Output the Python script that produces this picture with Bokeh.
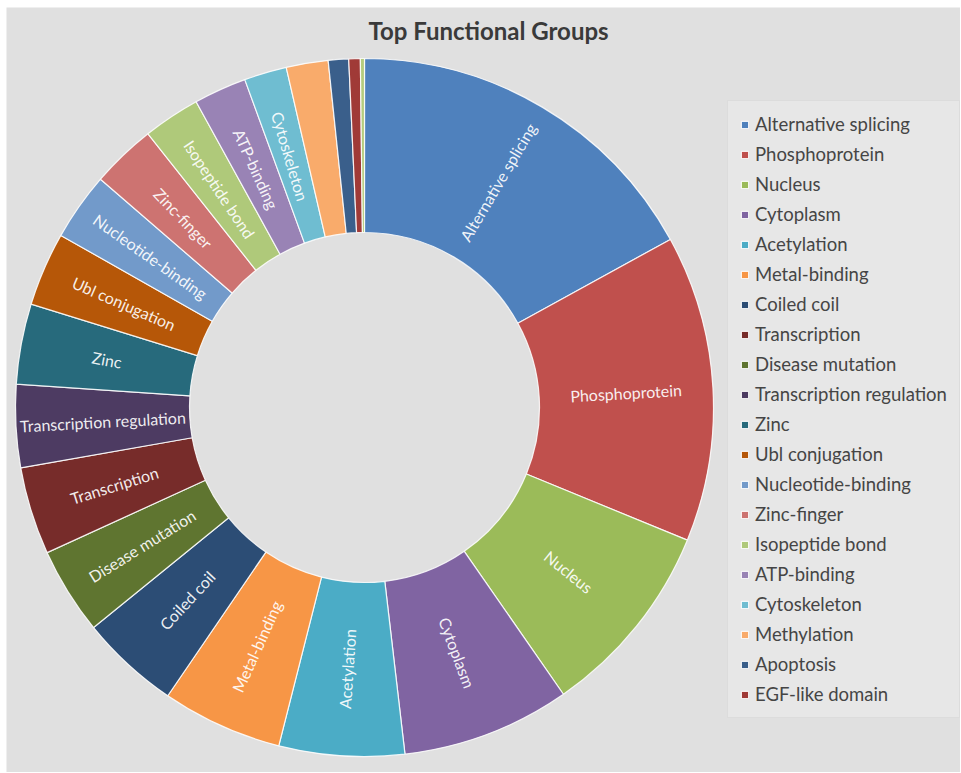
import math
from bokeh.plotting import figure
from bokeh.models import ColumnDataSource, Range1d, Legend, LegendItem, Label
from bokeh.core.properties import value
from bokeh.embed import file_html
from bokeh.resources import INLINE

# ---- data (slice order, clockwise from 12 o'clock) ----
slices = ["Alternative splicing", "Phosphoprotein", "Nucleus", "Cytoplasm",
          "Acetylation", "Metal-binding", "Coiled coil", "Disease mutation",
          "Transcription", "Transcription regulation", "Zinc", "Ubl conjugation",
          "Nucleotide-binding", "Zinc-finger", "Isopeptide bond", "ATP-binding",
          "Cytoskeleton", "Methylation", "Apoptosis", "EGF-like domain", "Other"]
values = [17.0, 14.2, 9.14, 7.8, 5.8, 5.58, 4.61, 4.03, 4.06, 3.83, 3.72, 3.42,
          3.14, 3.0, 2.64, 2.44, 1.97, 1.94, 0.94, 0.53, 0.19]
colors = ["#4F81BD", "#C0504D", "#9BBB59", "#8064A2", "#4BACC6", "#F79646",
          "#2C4D75", "#5F7530", "#772C2A", "#4D3B62", "#276A7C", "#B65708",
          "#729ACA", "#CD7371", "#AFC97A", "#9983B5", "#6FBDD1", "#F9AB6B",
          "#3A5F8B", "#A03A37", "#B5CC7E"]
labelled = ["Alternative splicing", "Phosphoprotein", "Nucleus", "Cytoplasm",
            "Acetylation", "Metal-binding", "Coiled coil", "Disease mutation",
            "Transcription", "Transcription regulation", "Zinc", "Ubl conjugation",
            "Nucleotide-binding", "Zinc-finger", "Isopeptide bond", "ATP-binding",
            "Cytoskeleton"]
legend_order = ["Alternative splicing", "Phosphoprotein", "Nucleus", "Cytoplasm",
                "Acetylation", "Metal-binding", "Coiled coil", "Transcription",
                "Disease mutation", "Transcription regulation", "Zinc",
                "Ubl conjugation", "Nucleotide-binding", "Zinc-finger",
                "Isopeptide bond", "ATP-binding", "Cytoskeleton", "Methylation",
                "Apoptosis", "EGF-like domain"]
title_text = "Top Functional Groups"

# ---- layout (data units = screen pixels) ----
W, H = 960, 772
BL, BT = 6, 7
CX, CY = 364, 365
R_IN, R_OUT = 175, 349
BG = "#e0e0e0"

total = float(sum(values))
starts, ends, mids = [], [], []
cum = 0.0
for v in values:
    a0 = cum / total * 360.0
    cum += v
    a1 = cum / total * 360.0
    starts.append(math.radians(90.0 - a0))
    ends.append(math.radians(90.0 - a1))
    mids.append((a0 + a1) / 2.0)

src = ColumnDataSource(dict(name=slices, value=values, color=colors,
                            start=starts, end=ends))

p = figure(width=W, height=H, x_range=Range1d(BL, W), y_range=Range1d(0, H - BT),
           output_backend="svg", toolbar_location=None,
           x_axis_location=None, y_axis_location=None,
           min_border_left=BL, min_border_top=BT, min_border_right=0,
           min_border_bottom=0,
           outline_line_color=None, background_fill_color=BG,
           border_fill_color="#ffffff")
p.grid.grid_line_color = None

r = p.annular_wedge(x=CX, y=CY, inner_radius=R_IN, outer_radius=R_OUT,
                    start_angle="start", end_angle="end", direction="clock",
                    fill_color="color", line_color="#ffffff", line_width=1.2,
                    line_alpha=0.85, source=src)

# slice labels, radial orientation
lx, ly, la, lt = [], [], [], []
rm = (R_IN + R_OUT) / 2.0
for name, mid in zip(slices, mids):
    if name not in labelled:
        continue
    th = math.radians(mid)
    lx.append(CX + rm * math.sin(th))
    ly.append(CY + rm * math.cos(th))
    a = 90.0 - mid
    if mid > 180.0:
        a += 180.0
    la.append(math.radians(a))
    lt.append(name)
lsrc = ColumnDataSource(dict(x=lx, y=ly, angle=la, text=lt))
p.text(x="x", y="y", text="text", angle="angle", source=lsrc,
       text_align="center", text_baseline="middle", text_color="#ffffff",
       text_alpha=0.92, text_font=value("Lato"), text_font_size="16px")

# legend in its own order
items = [LegendItem(label=n, renderers=[r], index=slices.index(n)) for n in legend_order]
legend = Legend(items=items, location=(721, 54), margin=0, padding=12,
                spacing=8, label_height=22, glyph_width=9, glyph_height=9,
                label_standoff=6, label_text_font="Lato",
                label_text_font_size="18.5px", label_text_color="#454545",
                background_fill_color="#e7e7e7", background_fill_alpha=1.0,
                border_line_color="#d2d2d2", border_line_width=1)
p.add_layout(legend)

p.add_layout(Label(x=488, y=H - 30, text=title_text, text_align="center",
                   text_baseline="middle", text_font="Lato",
                   text_font_style="bold", text_font_size="24px",
                   text_color="#3a3a3a"))

open("out.html", "w").write(file_html(p, INLINE))
